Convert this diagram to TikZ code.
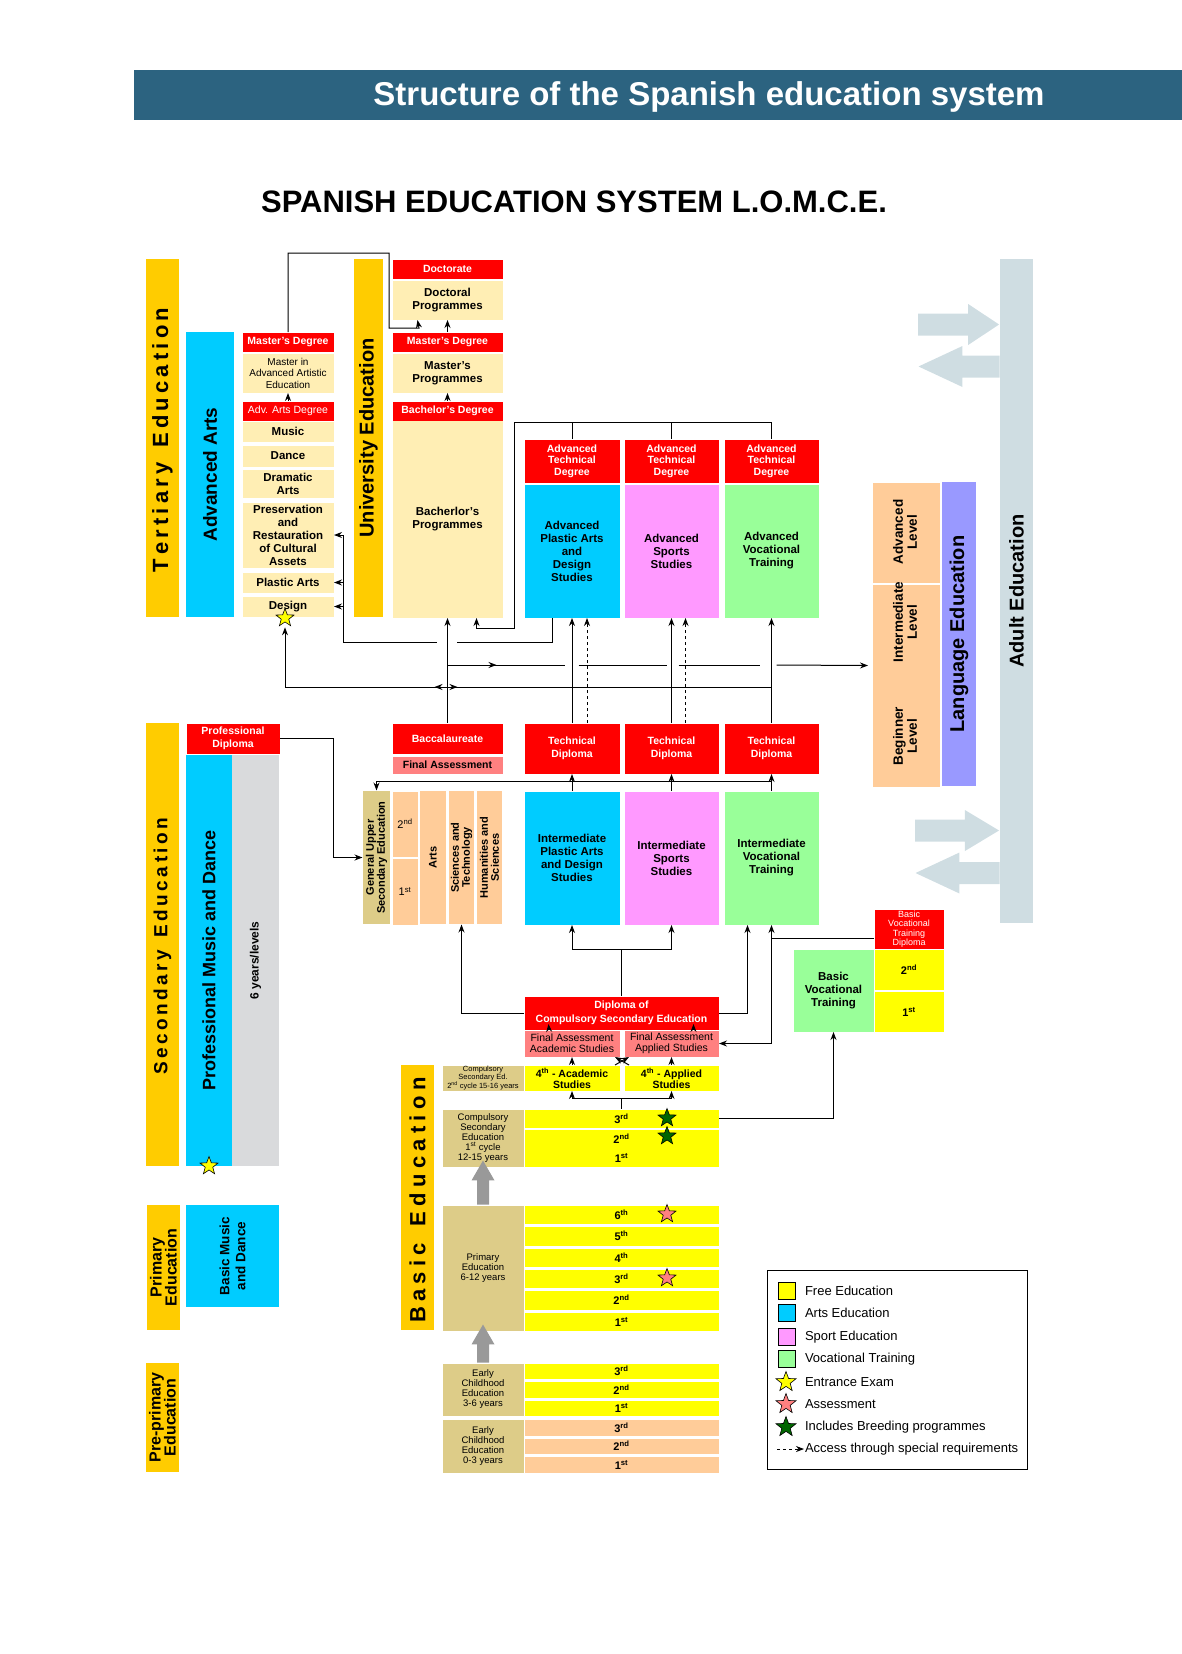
\documentclass[tikz,border=0pt]{standalone}
\usepackage{fontspec}
\setmainfont{Liberation Sans}
\usepackage{xcolor}
\usepackage{tikz}
\usetikzlibrary{shapes.geometric, shapes.arrows, arrows.meta}

\definecolor{hdrc}{HTML}{2C6380}
\definecolor{goldc}{HTML}{FFCC00}
\definecolor{skyc}{HTML}{00CCFF}
\definecolor{creamc}{HTML}{FFEEB4}
\definecolor{pinkc}{HTML}{FF99FF}
\definecolor{greenc}{HTML}{99FF99}
\definecolor{peachc}{HTML}{FFCC99}
\definecolor{salmonc}{HTML}{FF8080}
\definecolor{tanc}{HTML}{DDCC88}
\definecolor{greyc}{HTML}{D9DADC}
\definecolor{yelc}{HTML}{FFFF00}
\definecolor{lilacc}{HTML}{9999FF}
\definecolor{adultc}{HTML}{CFDDE2}
\definecolor{greyarr}{HTML}{999999}
\definecolor{dkgreen}{HTML}{006600}

\newcommand{\fs}[2]{\fontsize{#1}{#2}\selectfont}
% letter spaced bar titles
\newcommand{\spaced}[2]{\def\spgap{#1}\spacedx#2\relax}
\def\spacedx#1{\ifx\relax#1\else#1\kern\spgap\expandafter\spacedx\fi}
% boxes given by their corners (x1,y1) (x2,y2)
\newcommand{\bx}[7]{\node[#2, minimum width={#5-#3}, minimum height={#6-#4}, anchor=north west] (#1) at (#3,#4) {#7};}
\newcommand{\rbx}[7]{\node[#2, rotate=90, minimum width={#6-#4}, minimum height={#5-#3}] (#1) at ({(#3+#5)/2},{(#4+#6)/2}) {#7};}

\tikzstyle{arrow} = [-{Stealth[length=8pt,width=6pt]}]
\tikzset{
  box/.style={rectangle, inner sep=0.5pt, align=center, text=black},
  redbox/.style={box, fill=red, text=white, font=\bfseries\fs{10.5}{11.5}},
  redtall/.style={box, fill=red, text=white, font=\bfseries\fs{10.5}{13.5}},
  redthin/.style={box, fill=red, text=white, font=\fs{10.5}{11.5}},
  redtiny/.style={box, fill=red, text=white, font=\fs{9}{9.5}},
  creambox/.style={box, fill=creamc, font=\bfseries\fs{11.5}{13}},
  creamthin/.style={box, fill=creamc, font=\fs{10}{11.5}},
  cyanbox/.style={box, fill=skyc, font=\bfseries\fs{11.5}{13}},
  pinkbox/.style={box, fill=pinkc, font=\bfseries\fs{11.5}{13}},
  greenbox/.style={box, fill=greenc, font=\bfseries\fs{11.5}{13}},
  salmonbox/.style={box, fill=salmonc, font=\bfseries\fs{10.5}{11.5}},
  salmonthin/.style={box, fill=salmonc, font=\fs{10.5}{11}},
  yelbox/.style={box, fill=yelc, font=\bfseries\fs{10.5}{11}},
  rowbox/.style={box, fill=yelc, font=\bfseries\fs{11}{12}},
  peachrow/.style={rowbox, fill=peachc},
  peachbox/.style={box, fill=peachc},
  peachnum/.style={box, fill=peachc, font=\fs{11}{12}},
  peachrot/.style={box, fill=peachc, font=\bfseries\fs{11}{11}},
  tanrot/.style={box, fill=tanc, font=\bfseries\fs{11}{11}},
  tanbox/.style={box, fill=tanc, font=\fs{9.5}{10}},
  tantiny/.style={box, fill=tanc, font=\fs{7.5}{7.8}},
  goldbar/.style={box, fill=goldc, font=\bfseries\fs{22}{22}},
  goldtwo/.style={box, fill=goldc, font=\bfseries\fs{16}{15}},
  bigbar/.style={box, font=\bfseries\fs{20}{20}},
  langlab/.style={box, font=\bfseries\fs{13.5}{14}},
  legtext/.style={anchor=west, inner sep=0.5pt, font=\fs{13}{15}},
  legsq/.style={draw=black, line width=0.8pt, minimum size=17, inner sep=0},
  starmark/.style={star, star points=5, star point ratio=2.4, minimum size=19, inner sep=0, draw=black, line width=0.6pt},
  greyarrow/.style={single arrow, fill=greyarr, inner xsep=0, inner ysep=5.5, single arrow head extend=5.5, single arrow head indent=0},
  adultarrow/.style={single arrow, fill=adultc, inner xsep=0, inner ysep=10.5, single arrow head extend=9.5, single arrow head indent=0},
}

\begin{document}
\begin{tikzpicture}[x=1pt, y=-1pt, line width=1pt]
\useasboundingbox (0,0) rectangle (1182,1654);

% titles
\node[fill=hdrc, minimum width=1049, minimum height=49, anchor=north west, inner sep=0] (hdr) at (133,70) {};
\node[text=white, font=\bfseries\fs{33}{36}] (title) at (709,97) {Structure of the Spanish education system};
\node[font=\bfseries\fs{31}{34}] (heading) at (574,202) {SPANISH EDUCATION SYSTEM L.O.M.C.E.};

% tertiary education
\rbx{tert}{goldbar}{146}{259}{179}{617}{\spaced{4.2pt}{Tertiary~Education}}
\rbx{advarts}{bigbar, fill=skyc, font=\bfseries\fs{19}{19}}{186}{332}{234}{617}{Advanced Arts}
\bx{masterA}{redbox}{242}{332}{333}{351}{Master's Degree}
\bx{masterAprog}{creamthin}{242}{353}{333}{392}{Master in\\Advanced Artistic\\Education}
\bx{advdeg}{redthin}{242}{401}{333}{420}{Adv. Arts Degree}
\bx{music}{creambox}{242}{421}{333}{441}{Music}
\bx{dance}{creambox}{242}{445}{333}{466}{Dance}
\bx{dramatic}{creambox}{242}{469}{333}{497}{Dramatic\\Arts}
\bx{preserv}{creambox}{242}{502}{333}{567}{Preservation\\and\\Restauration\\of Cultural\\Assets}
\bx{plastic}{creambox}{242}{572}{333}{592}{Plastic Arts}
\bx{design}{creambox}{242}{596}{333}{616}{\raisebox{3pt}{Design}}
\node[starmark, fill=yelc] (star1) at (285,618) {};

\rbx{univ}{bigbar, fill=goldc}{354}{259}{383}{617}{University Education}
\bx{doct}{redbox}{392}{259}{502}{278}{Doctorate}
\bx{doctprog}{creambox}{392}{280}{502}{319}{Doctoral\\Programmes}
\bx{masterU}{redbox}{392}{332}{502}{351}{Master's Degree}
\bx{masterprog}{creambox}{392}{353}{502}{392}{Master's\\Programmes}
\bx{bachdeg}{redbox}{392}{401}{502}{420}{Bachelor's Degree}
\bx{bachprog}{creambox}{392}{420}{502}{617}{Bacherlor's\\Programmes}

\bx{atdA}{redbox}{524}{439}{619}{482}{Advanced\\Technical\\Degree}
\bx{atdB}{redbox}{624}{439}{718}{482}{Advanced\\Technical\\Degree}
\bx{atdC}{redbox}{724}{439}{818}{482}{Advanced\\Technical\\Degree}
\bx{apA}{cyanbox}{524}{484}{619}{617}{Advanced\\Plastic Arts\\and\\Design\\Studies}
\bx{apB}{pinkbox}{624}{484}{718}{617}{Advanced\\Sports\\Studies}
\bx{apC}{greenbox}{724}{484}{818}{617}{Advanced\\Vocational\\Training}

% languages and adults
\bx{langup}{peachbox}{872}{482}{939}{582}{}
\bx{langlow}{peachbox}{872}{584}{939}{786}{}
\node[langlab, rotate=90] (advlev) at (905,532) {Advanced\\Level};
\node[langlab, rotate=90] (intlev) at (905,622) {Intermediate\\Level};
\node[langlab, rotate=90] (beglev) at (905,736) {Beginner\\Level};
\rbx{langed}{bigbar, fill=lilacc}{942}{482}{976}{786}{Language Education}
\rbx{adult}{bigbar, fill=adultc}{1000}{259}{1033}{923}{Adult Education}
\node[adultarrow, anchor=tip, minimum height=81, single arrow tip angle=67] (aa1) at (1000,324.5) {};
\node[adultarrow, rotate=180, anchor=tail, minimum height=81, single arrow tip angle=50] (aa2) at (1000,366.5) {};
\node[adultarrow, anchor=tip, minimum height=84, single arrow tip angle=62] (aa3) at (1000,830.5) {};
\node[adultarrow, rotate=180, anchor=tail, minimum height=84, single arrow tip angle=50] (aa4) at (1000,873) {};

% secondary education
\rbx{sec}{goldbar, font=\bfseries\fs{19}{19}}{146}{723}{179}{1166}{\spaced{3.5pt}{Secondary~Education}}
\bx{profdip}{redtall}{186}{723}{279}{753}{Professional\\Diploma}
\rbx{profmus}{bigbar, fill=skyc, font=\bfseries\fs{18}{18}}{186}{755}{232}{1166}{Professional Music and Dance}
\rbx{sixyears}{box, fill=greyc, font=\bfseries\fs{12}{12}}{232}{755}{279}{1166}{6 years/levels}
\node[starmark, fill=yelc] (star2) at (209,1166) {};

\bx{bacc}{redtall}{392}{723}{502}{753}{Baccalaureate}
\bx{finalB}{salmonbox}{392}{756}{502}{773}{Final Assessment}
\rbx{genup}{tanrot}{363}{791}{390}{924}{General Upper\\Secondary Education}
\bx{bac2}{peachnum}{392}{791}{417}{856}{2\textsuperscript{nd}}
\bx{bac1}{peachnum}{392}{858}{417}{924}{1\textsuperscript{st}}
\rbx{arts}{peachrot}{420}{791}{446}{924}{Arts}
\rbx{scitech}{peachrot}{449}{791}{474}{924}{Sciences and\\Technology}
\rbx{humsci}{peachrot}{477}{791}{502}{924}{Humanities and\\Sciences}

\bx{tdA}{redtall}{524}{723}{619}{773}{Technical\\Diploma}
\bx{tdB}{redtall}{624}{723}{718}{773}{Technical\\Diploma}
\bx{tdC}{redtall}{724}{723}{818}{773}{Technical\\Diploma}
\bx{intA}{cyanbox}{524}{791}{619}{924}{Intermediate\\Plastic Arts\\and Design\\Studies}
\bx{intB}{pinkbox}{624}{791}{718}{924}{Intermediate\\Sports\\Studies}
\bx{intC}{greenbox}{724}{791}{818}{924}{Intermediate\\Vocational\\Training}

\bx{bvtd}{redtiny}{874}{909}{943}{948}{Basic\\Vocational\\Training\\Diploma}
\bx{bv2}{rowbox}{874}{949}{943}{989}{2\textsuperscript{nd}}
\bx{bv1}{rowbox}{874}{991}{943}{1031}{1\textsuperscript{st}}
\bx{bvt}{greenbox}{793}{949}{873}{1031}{Basic\\Vocational\\Training}

% basic education
\rbx{basic}{goldbar}{401}{1065}{434}{1330}{\spaced{5.3pt}{Basic~Education}}
\bx{dip}{redtall}{524}{996}{718}{1029}{Diploma of\\Compulsory Secondary Education}
\bx{faA}{salmonthin}{524}{1030}{619}{1056}{Final Assessment\\Academic Studies}
\bx{faB}{salmonthin}{624}{1030}{718}{1056}{Final Assessment\\Applied Studies}
\bx{fourA}{yelbox}{524}{1065}{619}{1090}{4\textsuperscript{th} - Academic\\Studies}
\bx{fourB}{yelbox}{624}{1065}{718}{1090}{4\textsuperscript{th} - Applied\\Studies}
\bx{cso2}{tantiny}{442}{1065}{523}{1090}{Compulsory\\Secondary Ed.\\2\textsuperscript{nd} cycle 15-16 years}
\bx{cso1}{tanbox}{442}{1109}{523}{1166}{Compulsory\\Secondary\\Education\\1\textsuperscript{st} cycle\\12-15 years}
\bx{eso3}{rowbox}{524}{1109}{718}{1127}{3\textsuperscript{rd}}
\bx{eso21}{rowbox}{524}{1129}{718}{1166}{2\textsuperscript{nd}\\[7pt]1\textsuperscript{st}}
\node[starmark, fill=dkgreen] (star3) at (667,1118) {};
\node[starmark, fill=dkgreen] (star4) at (667,1136) {};

\bx{prim}{tanbox}{442}{1205}{523}{1330}{Primary\\Education\\6-12 years}
\bx{p6}{rowbox}{524}{1205}{718}{1223}{6\textsuperscript{th}}
\bx{p5}{rowbox}{524}{1226}{718}{1245}{5\textsuperscript{th}}
\bx{p4}{rowbox}{524}{1248}{718}{1266}{4\textsuperscript{th}}
\bx{p3}{rowbox}{524}{1269}{718}{1287}{3\textsuperscript{rd}}
\bx{p2}{rowbox}{524}{1290}{718}{1309}{2\textsuperscript{nd}}
\bx{p1}{rowbox}{524}{1312}{718}{1330}{1\textsuperscript{st}}
\node[starmark, fill=salmonc] (star5) at (667,1214) {};
\node[starmark, fill=salmonc] (star6) at (667,1278) {};
\node[greyarrow, rotate=90, anchor=tail, minimum height=44, single arrow tip angle=60] (up1) at (prim.north) {};

\bx{ec36}{tanbox}{442}{1363}{523}{1415}{Early\\Childhood\\Education\\3-6 years}
\bx{e3}{rowbox}{524}{1363}{718}{1378}{3\textsuperscript{rd}}
\bx{e2}{rowbox}{524}{1381}{718}{1397}{2\textsuperscript{nd}}
\bx{e1}{rowbox}{524}{1400}{718}{1415}{1\textsuperscript{st}}
\bx{ec03}{tanbox}{442}{1419}{523}{1472}{Early\\Childhood\\Education\\0-3 years}
\bx{n3}{peachrow}{524}{1419}{718}{1435}{3\textsuperscript{rd}}
\bx{n2}{peachrow}{524}{1438}{718}{1453}{2\textsuperscript{nd}}
\bx{n1}{peachrow}{524}{1456}{718}{1472}{1\textsuperscript{st}}
\node[greyarrow, rotate=90, anchor=tail, minimum height=38, single arrow tip angle=60] (up2) at (ec36.north) {};

% primary and pre-primary
\rbx{primbar}{goldtwo}{147}{1205}{180}{1330}{Primary\\Education}
\rbx{basicmus}{box, fill=skyc, font=\bfseries\fs{13.5}{16}}{186}{1205}{279}{1307}{Basic Music\\and Dance}
\rbx{preprim}{goldtwo}{146}{1363}{179}{1472}{Pre-primary\\Education}

% connectors, tertiary
\draw[arrow] (masterA.north) -- ++(0,-79) -- ++(101,0) -- ++(0,75) -- ++(30,0) -- ([xshift=-30pt]doctprog.south);
\draw[arrow] (masterU) -- (doctprog);
\draw[arrow] (bachdeg) -- (masterprog);
\draw[arrow] (advdeg) -- (masterAprog);
\draw (atdA.north) -- ++(0,-17);
\draw (atdB.north) -- ++(0,-17);
\draw[arrow] (atdC.north) -- ++(0,-17) -- ++(-257,0) -- ++(0,206) -- ++(-38,0) -- ([xshift=29pt]bachprog.south);
\draw ([xshift=-19.5pt]apA.south) -- ++(0,24) -- ++(-96,0);
\draw[arrow] ([xshift=-11pt,yshift=-24pt]bachprog.south) -| ([xshift=9pt]preserv.east) -- (preserv.east);
\draw[arrow] ([xshift=9pt]plastic.east) -- (plastic.east);
\draw[arrow] ([xshift=9pt]design.east) -- (design.east);

% tech diplomas and baccalaureate upwards
\draw[arrow] (tdA) -- (apA);
\draw[arrow, dashed] ([xshift=15pt]tdA.north) -- ([xshift=15pt]apA.south);
\draw[arrow] (tdB) -- (apB);
\draw[arrow, dashed] ([xshift=14pt]tdB.north) -- ([xshift=14pt]apB.south);
\draw[arrow] (tdC) -- (apC);
\draw[arrow] (bacc) -- (bachprog);
\draw[arrow] ([yshift=58pt]bacc.north) -- ++(49,0);
\draw ([yshift=58pt]bacc.north) -- ++(117,0);
\draw ([xshift=6.5pt,yshift=58pt]tdA.north) -- ([xshift=-5pt,yshift=58pt]tdB.north);
\draw ([xshift=7pt,yshift=58pt]tdB.north) -- ([xshift=-12pt,yshift=58pt]tdC.north);
\draw[arrow] ([xshift=5pt,yshift=58pt]tdC.north) -- ([xshift=-4pt,yshift=20pt]langlow.west);
\draw[arrow] ([yshift=36pt]tdC.north) -| ([yshift=-5pt]star1.south);
\draw[arrow] ([yshift=36pt]bacc.north) -- ++(-13,0);
\draw[arrow] ([yshift=36pt]bacc.north) -- ++(10,0);

% secondary connectors
\draw[arrow] (intA) -- (tdA);
\draw[arrow] (intB) -- (tdB);
\draw[arrow] (intC) -- (tdC);
\draw[arrow] ([yshift=-7pt]tdC.south) -| (genup.east);
\draw[arrow] (profdip.east) -- ++(53,0) |- (genup.north);
\draw (dip.north) -- ++(0,-47);
\draw[arrow] ([yshift=47pt]dip.north) -| (intA.south);
\draw[arrow] ([yshift=47pt]dip.north) -| (intB.south);
\draw[arrow] (dip.east) -| ([xshift=-24pt]intC.south);
\draw[arrow] (dip.west) -| (scitech.west);
\draw[arrow] ([yshift=-9.5pt]bvtd.west) -| (intC.south);
\draw[arrow] ([yshift=-9.5pt]bvtd.west) -- ++(-103,0) |- (faB.east);
\draw[arrow] (eso3.east) -| (bvt.south);

% compulsory secondary
\draw[arrow] ([xshift=-23pt]faA.north) -- ([xshift=-73pt,yshift=6pt]dip.south);
\draw[arrow] ([xshift=22pt]faB.north) -- ([xshift=72pt,yshift=6pt]dip.south);
\draw[arrow] (fourA) -- (faA);
\draw[arrow] (fourB) -- (faB);
\draw[arrow] ([xshift=-5pt]fourA.north east) -- ([xshift=5pt]faB.south west);
\draw[arrow] ([xshift=5pt]fourB.north west) -- ([xshift=-5pt]faA.south east);
\draw ([yshift=11pt]eso3.north) -- (eso3.north);
\draw[arrow] ([yshift=11pt]eso3.north) -| (fourA.south);
\draw[arrow] ([yshift=11pt]eso3.north) -| (fourB.south);

% legend
\node[draw=black, line width=0.8pt, minimum width=260, minimum height=199, anchor=north west, inner sep=0] (legend) at (767,1270) {};
\node[legsq, fill=yelc] (lq1) at (786.5,1291) {};
\node[legsq, fill=skyc] (lq2) at (786.5,1313) {};
\node[legsq, fill=pinkc] (lq3) at (786.5,1337) {};
\node[legsq, fill=greenc] (lq4) at (786.5,1359) {};
\node[starmark, fill=yelc, minimum size=21] (lq5) at (786,1382) {};
\node[starmark, fill=salmonc, minimum size=21] (lq6) at (786,1404) {};
\node[starmark, fill=dkgreen, minimum size=21] (lq7) at (786,1427) {};
\coordinate (lq8) at (777,1449);
\node[legtext] (lt1) at (804,1291) {Free Education};
\node[legtext] (lt2) at (804,1313) {Arts Education};
\node[legtext] (lt3) at (804,1337) {Sport Education};
\node[legtext] (lt4) at (804,1359) {Vocational Training};
\node[legtext] (lt5) at (804,1382) {Entrance Exam};
\node[legtext] (lt6) at (804,1404) {Assessment};
\node[legtext] (lt7) at (804,1427) {Includes Breeding programmes};
\node[legtext] (lt8) at (804,1449) {Access through special requirements};
\draw[arrow, dashed, line width=0.8pt] (lq8) -- (lt8.west);

\end{tikzpicture}
\end{document}
